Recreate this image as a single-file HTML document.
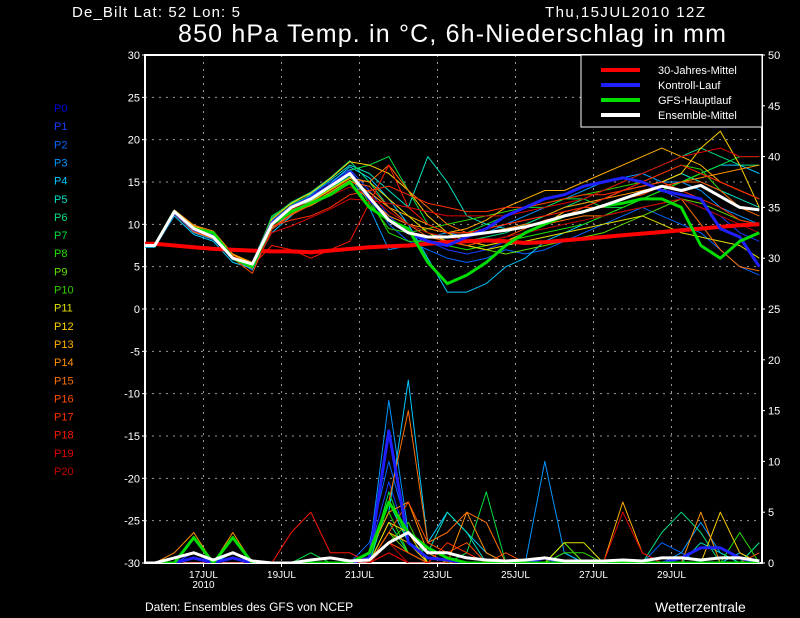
<!DOCTYPE html>
<html><head><meta charset="utf-8"><style>
html,body{margin:0;padding:0;background:#000;}
svg{display:block;}
text{font-family:"Liberation Sans",sans-serif;fill:#fff;}
</style></head><body>
<svg id="chart" width="800" height="618" viewBox="0 0 800 618">
<rect x="0" y="0" width="800" height="618" fill="#000"/>
<text x="72" y="17" font-size="15" textLength="168">De_Bilt  Lat: 52 Lon: 5</text>
<text x="545" y="17" font-size="15" textLength="160">Thu,15JUL2010 12Z</text>
<text x="178" y="42" font-size="25" textLength="548">850 hPa Temp. in °C, 6h-Niederschlag in mm</text>
<g id="grid"></g>
<g id="axes"></g>
<g id="series"></g>
<g id="legend"></g>
<g id="plabels"></g>
<text x="145" y="611" font-size="12">Daten: Ensembles des GFS von NCEP</text>
<text x="655" y="612" font-size="14">Wetterzentrale</text>
</svg>
<script>
const tempTicks=[30,25,20,15,10,5,0,-5,-10,-15,-20,-25,-30];
const precTicks=[50,45,40,35,30,25,20,15,10,5,0];
const dateLabels=['17JUL','19JUL','21JUL','23JUL','25JUL','27JUL','29JUL'];
const dateSteps=[6,14,22,30,38,46,54]; // 6h steps from start
const climate=[7.7,7.5,7.3,7.1,7,6.9,6.8,6.8,6.7,6.9,7.1,7.3,7.4,7.5,7.7,7.9,8.0,8.1,8.0,7.8,7.9,8.1,8.3,8.5,8.7,8.9,9.1,9.3,9.5,9.7,9.9,10.0];
const meanT=[7.5,11.5,9.5,8.5,6,5.3,10,12,13,14.5,16,13.2,10.5,9,8.5,8.5,8.7,9,9.3,9.7,10.3,11,11.5,12.2,13,13.8,14.5,14,14.6,13.3,12,11.7];
const controlT=[7.5,11.4,9.4,8.6,6,5.2,10.2,12.1,13.2,14.6,16.2,13,10.5,9,8,7.5,8.5,9.5,11,12,13,13.5,14.5,15,15.5,15,14,13.5,13,9.5,8.5,5];
const gfsT=[7.5,11.5,9.5,9,6,5,10,11.5,12.5,13.5,15,12,10.5,9.5,5.5,3,4,5.5,7.5,9,10,11,11.5,12.2,12.5,13,13,12,7.5,6,8,9];
const membersT=[
[7.4,11.2,9.2,8.8,6.2,5.0,10.5,12.2,13.5,15,16.5,14,11,9,8,7,6.5,7,8,9,10,11,12,13,14,15,14,13,12,11,9,8],
[7.6,11.6,9.6,8.4,5.8,5.2,9.8,11.8,13.2,14.5,16.2,13.5,10,8,7,6,5.5,6,7,6.5,7,8,9,10,11,12,11,10,9,7,5,4],
[7.5,11.3,9.0,8.2,6.0,4.6,9.5,11.5,12.8,14.2,15.8,12,7,7.5,8.5,9,8.5,9,10,11,12,13,14,15,15.5,16,15,15,14,12,11,10],
[7.3,11.0,8.8,8.0,5.5,4.8,9.0,11.0,13.0,14.8,16.8,15.5,13,10,6,2,2,3,5,6,8,9,10,11,12,13,14,15,16,17,17,16],
[7.7,11.4,9.4,8.6,6.3,5.3,10.2,12.0,13.6,15.2,17,16,14,12,18,15,11,10,9.5,10,11,12,12.5,13,14,14.5,15,16,15,14,13,12],
[7.5,11.7,9.8,8.9,6.4,5.5,10.8,12.6,13.8,15.5,17.5,15,12,10,9,8.5,8,8.5,9,10,11,12,13,14,15,16,17,18,19,18,17,17],
[7.6,11.5,9.5,8.7,6.1,5.1,11,12.4,13.4,14.6,16.4,17,18,14,10,9,9,10,11,12,12,13,13,12,12,13,14,15,16,17,18,18],
[7.4,11.3,9.3,8.5,5.9,4.9,10,11.9,12.9,14.2,15.6,13,9,8,8,7.5,7,7.5,8,8.5,9,9.5,10,11,12,13,14,15,16,15,14,13],
[7.5,11.4,9.6,8.6,6.1,5.2,10.3,12.1,13.1,14.4,15.9,13.3,10.5,9,8.5,8,7.5,7,6.5,7,7.5,8,8.5,9,10,11,12,13,12.5,11.5,10.5,10],
[7.5,11.6,9.7,8.7,6.0,5.3,10.4,12.3,13.3,14.7,16.1,12.5,9.5,9,9.5,10,10.5,11,11.5,12,12.5,13,13.5,14,14.5,15,16,17,16.5,14,12,11],
[7.6,11.5,9.4,8.5,6.2,5.1,10.1,11.7,12.7,14.1,15.5,15,13,11,9,8,7.5,7,7.5,8,8.5,9,9.5,10,10.5,11,10,9,8.5,8,7.5,6],
[7.4,11.3,9.5,8.8,6.4,5.4,10.6,12.5,13.7,15.4,17.4,17,16,14,11,9,8,7.5,8,9,10,11.5,12,13,14,14.5,15,16,19,21,17,12],
[7.5,11.5,9.8,9.0,6.3,5.2,10.2,11.6,12.4,13.8,15.2,13.8,12,11,10,9,9.5,10.5,12,13,14,14,15,16,17,18,19,18,17,15,14,13],
[7.6,11.7,9.9,9.2,6.5,5.5,10.0,11.4,12.2,13.5,14.8,13,11,10,9.5,9,9,9.5,10,10.5,11,12,12.5,13,13.5,14,14.5,15,15.5,16,16.5,17],
[7.5,11.3,9.1,8.3,5.9,4.8,9.6,11.2,12.6,14.0,15.4,15,17,14,12,10,9,9,9.5,10,10,10.5,11,11,11.5,12,12.5,13,10,7,5,4.5],
[7.4,11.2,9.2,8.4,6.0,4.2,9.4,11.1,12.3,13.6,15.0,14.5,12,10,8.5,8,7.5,8,8.5,9.5,10.5,11,12,12,13,13.5,14.5,15,15,14,12,11],
[7.5,11.4,9.3,8.6,6.1,5.0,9.8,10.5,11.0,12.0,13.5,14,14.5,13.5,12.5,12,11.5,11.5,12,12,12.5,13,13.5,13.5,14,14.5,15,14,13,12,10.5,10],
[7.6,11.5,9.5,8.7,6.2,5.1,7.5,7,6,7,8,12.5,17,12,10,9,9,9.5,10,10.5,11,11.5,12,13,14,15,16,17,16,15,14,13],
[7.5,11.3,9.4,8.5,6.0,5.0,9.0,9.8,10.8,11.8,13,12.8,12.5,12,11.5,11,11,11,11,11.5,12,12.5,13,14,15,16,17,18,18.5,19,18,18],
[7.4,11.4,9.6,8.8,6.3,5.2,10.0,11.8,12.6,13.4,14.4,13.5,11.5,10,9,8.5,8,8,8.5,9,9.5,10,10.5,11,11.5,12,12.5,13,12,11,10,9]];
const meanP=[0,0.5,1,0.3,1,0.2,0,0,0.3,0.5,0.2,0.3,2,3,1,1,0.5,0.3,0.2,0.3,0.5,0.2,0.2,0.2,0.3,0.2,0.5,0.5,0.3,0.5,0.5,0.2];
const controlP=[0,0,0.5,0,0.5,0,0,0,0,0,0,0.5,13,2,0.5,0.3,0,0,0,0,0.5,0,0,0,0,0,0,0.5,1.5,1.5,0.5,0];
const gfsP=[0,0,2.5,0,2.5,0,0,0,0,0,0,1,6,3,1.5,0.5,0,0,0,0,0,0,0,0,0,0,0,0,0,0,0,0];
const membersP=[
[0,0,1,0,1,0,0,0,0,0,0,1,8,2,0,0,0,0,0,0,0,0,0,0,0,0,0,0,0,0,0,0],
[0,0,0.5,0,0.5,0,0,0,0,0,0,2,10,3,1,0,0,0,0,0,0,0,0,0,0,0,2,1,0,0,0,0],
[0,0,0.5,0,1,0,0,0,0,0,0,1,16,3,1,0,0,0,0,0,10,1,0,0,0,0,0,1,4,1,0,0],
[0,0,0,0,1,0,0,0,0,0,0,1,5,18,2,5,3,1,0,0,0,1,0,0,0,0,0,0,0,0,1,0],
[0,0,0,0,0,0,0,0,0,0,0,0,6,2,1,5,3,0,0,0,0,0,0,0,0,0,0,0,2,1,0,2],
[0,0,0,0,0,0,0,0,0,0,0,0,4,1,0,0,0,0,0,0,0,0,0,0,0,0,3,5,3,0,0,2],
[0,0,0,0,0,0,0,0,1,0,0,0,7,2,0,0,1,7,0,0,0,0,0,0,0,0,0,0,0,0,0,0],
[0,0,0,0,0,0,0,0,0,0,0,1,5,1,0,0,0,0,0,0,0,2,0,0,0,0,0,0,0,0,3,0],
[0,0,0,0,0,0,0,0,0,0,0,0,3,1,0,0,0,0,0,0,0,2,0,0,0,0,0,0,0,0,0,0],
[0,0,0,0,0,0,0,0,0,0,0,0,2,4,0,0,0,0,0,0,0,1,1,0,0,0,0,0,0,0,0,0],
[0,0,0,0,0,0,0,0,0,0,0,0,2,1,0,0,0,0,0,0,0,2,2,0,0,0,0,0,0,0,0,0],
[0,0,0,0,0,0,0,0,0,0,0,0,4,3,0,0,0,0,0,0,0,0,0,0,0,0,0,0,0,5,1,0],
[0,0,0,0,0,0,0,0,0,0,0,0,3,2,0,0,0,0,0,0,0,0,0,0,6,1,0,0,0,0,0,0],
[0,1,3,0,3,0,0,0,0,0,0,1,5,6,1,0,5,1,0,0,0,0,0,0,0,0,0,0,5,0,0,0],
[0,0,0,0,0,0,0,0,0,0,0,1,6,15,2,3,5,4,0,0,0,0,0,0,0,0,0,0,0,0,0,0],
[0,0,0,0,0,0,0,0,0,0,0,0,3,6,2,1,2,0,1,0,0,0,0,0,0,0,0,0,0,0,0,1],
[0,0,0,0,0,0,0,0,0,0,0,0,2,1,0,2,1,0,0,0,0,0,0,0,0,0,0,0,0,0,0,0],
[0,0,0,0,0,0,0,3,5,1,1,0,1,0,0,0,0,0,0,0,0,0,0,0,0,0,0,0,0,0,0,0],
[0,0,0,0,0,0,0,0,0,0,0,0,1,0,0,0,0,0,0,0,0,0,0,0,5,1,0,0,0,0,0,0],
[0,0,0,0,0,0,0,0,0,0,0,0,2,0,0,0,0,0,0,0,0,0,0,0,0,0,0,0,0,0,0,0]];
const memberNames=['P0','P1','P2','P3','P4','P5','P6','P7','P8','P9','P10','P11','P12','P13','P14','P15','P16','P17','P18','P19','P20'];
const legendNames=['30-Jahres-Mittel','Kontroll-Lauf','GFS-Hauptlauf','Ensemble-Mittel'];
const colors=['#0000e0','#1a3cff','#0064ff','#0096ff','#00c8ff','#00e0c0','#00e080','#00e040','#20e000','#60e000','#30d000','#e0e000','#ffd000','#ffb000','#ff9000','#ff7000','#ff5000','#ff3000','#ff1800','#e00000','#c00000'];

const L=145,R=762,T=55,B=563;
const NS="http://www.w3.org/2000/svg";
function yT(v){return T+(30-v)*(B-T)/60;}
function yP(v){return B-v*(B-T)/50;}
function xStep(s){return L+s*9.75;}
function xI(i){return xStep(1+2*i);}
function mk(tag,attrs,parent){const e=document.createElementNS(NS,tag);for(const k in attrs)e.setAttribute(k,attrs[k]);parent.appendChild(e);return e;}
const grid=document.getElementById('grid'),axes=document.getElementById('axes'),ser=document.getElementById('series');
const defs=mk('defs',{},document.getElementById('chart'));
const cp=mk('clipPath',{id:'plotclip'},defs);mk('rect',{x:L,y:T,width:R-L,height:B-T},cp);
ser.setAttribute('clip-path','url(#plotclip)');
tempTicks.forEach(v=>{const y=yT(v);
 if(v!==30&&v!==-30){const g=mk('line',{x1:L,x2:R,y1:y,y2:y,stroke:'#999','stroke-dasharray':'2,5'},grid);
 }
 const t=mk('text',{x:L-5,y:y+4,'font-size':'11','text-anchor':'end'},axes);t.textContent=v;
 
 mk('line',{x1:L-3,x2:L,y1:y,y2:y,stroke:'#fff'},axes);});
precTicks.forEach(v=>{const y=yP(v);
 const t=mk('text',{x:R+6,y:y+4,'font-size':'11'},axes);t.textContent=v;
 
 mk('line',{x1:R,x2:R+3,y1:y,y2:y,stroke:'#fff'},axes);});
dateLabels.forEach((d,i)=>{const x=xStep(dateSteps[i]);
 const g=mk('line',{x1:x,x2:x,y1:T,y2:B,stroke:'#999','stroke-dasharray':'2,5'},grid);
 
 mk('line',{x1:x,x2:x,y1:B,y2:B+4,stroke:'#fff'},axes);
 const t=mk('text',{x:x,y:578,'font-size':'10','text-anchor':'middle'},axes);t.textContent=d;
 });
const yr=mk('text',{x:xStep(6),y:588,'font-size':'10','text-anchor':'middle'},axes);yr.textContent='2010';

const fr=mk('rect',{x:L,y:T,width:R-L,height:B-T,fill:'none',stroke:'#fff','stroke-width':2},axes);

function line(vals,fy,color,w,name){
 const arr=vals.map((v,i)=>[xI(i),fy(v)]);
 arr.unshift([L,arr[0][1]]);
 const pts=arr.map(p=>p[0].toFixed(1)+','+p[1].toFixed(1)).join(' ');
 const p=mk('polyline',{points:pts,fill:'none',stroke:color,'stroke-width':w,'stroke-linejoin':'round'},ser);
 return p;}
membersP.forEach((a,k)=>line(a,yP,colors[k+1],1,'precip-'+memberNames[k+1].toLowerCase()));
membersT.forEach((a,k)=>line(a,yT,colors[k+1],1,'temp-'+memberNames[k+1].toLowerCase()));
line(climate,yT,'#ff0000',4,'climate-line');
line(controlP,yP,'#2020ff',3,'control-precip');
line(controlT,yT,'#2020ff',3,'control-temp');
line(gfsP,yP,'#00dd00',3,'gfs-precip');
line(gfsT,yT,'#00dd00',3,'gfs-temp');
line(meanP,yP,'#ffffff',3,'mean-precip');
line(meanT,yT,'#ffffff',3,'mean-temp');
const lg=document.getElementById('legend');
const lb=mk('rect',{x:581,y:55,width:181,height:72,fill:'#000',stroke:'#fff','stroke-width':1},lg);

const lc=['#ff0000','#2020ff','#00dd00','#ffffff'];
legendNames.forEach((n,i)=>{const y=70+i*15;
 const s=mk('line',{x1:601,x2:640,y1:y,y2:y,stroke:lc[i],'stroke-width':4},lg);
 
 const t=mk('text',{x:658,y:y+4,'font-size':'11'},lg);t.textContent=n;
 });
const pl=document.getElementById('plabels');
memberNames.forEach((n,i)=>{const t=mk('text',{x:54,y:112+i*18.15,'font-size':'11',style:'fill:'+colors[i]},pl);t.textContent=n;
 });
</script>
</body></html>
